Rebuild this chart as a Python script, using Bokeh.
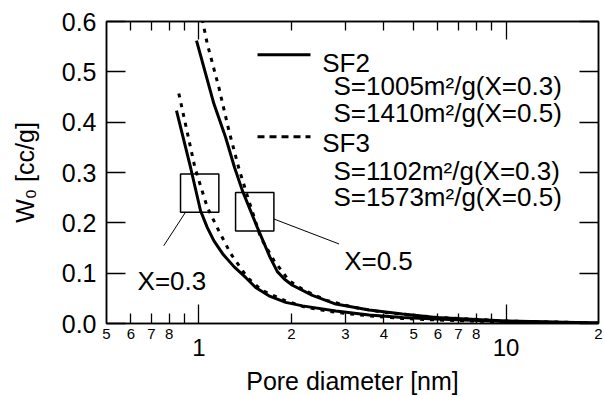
from bokeh.plotting import figure
from bokeh.models import (Range1d, LogAxis, LinearAxis, FixedTicker, NumeralTickFormatter,
                          BoxAnnotation, Label, Arrow)
from bokeh.embed import file_html
from bokeh.resources import INLINE

FONT = "Liberation Sans"

# ---- data ----
sf2_x03_d = [0.845, 0.939, 1.012, 1.064, 1.119, 1.200, 1.300, 1.419, 1.530, 1.690, 1.917, 2.173, 2.79, 3.58, 4.60, 5.91, 10.0, 20.0]
sf2_x03_w = [0.423, 0.310, 0.224, 0.191, 0.164, 0.137, 0.113, 0.0915, 0.0716, 0.055, 0.042, 0.035, 0.025, 0.0167, 0.012, 0.0087, 0.004, 0.0005]

sf3_x03_d = [0.860, 0.970, 1.064, 1.161, 1.268, 1.437, 1.600, 1.900, 2.200, 2.80, 3.60, 4.60, 6.00, 10.0, 20.0]
sf3_x03_w = [0.457, 0.310, 0.231, 0.184, 0.139, 0.0915, 0.066, 0.046, 0.033, 0.022, 0.015, 0.010, 0.007, 0.003, 0.0005]

sf2_x05_d = [0.982, 1.118, 1.221, 1.306, 1.385, 1.549, 1.700, 1.800, 1.900, 2.015, 2.342, 2.79, 3.58, 4.60, 5.91, 10.0, 20.0]
sf2_x05_w = [0.562, 0.437, 0.370, 0.310, 0.264, 0.191, 0.133, 0.103, 0.088, 0.076, 0.056, 0.0386, 0.027, 0.0187, 0.012, 0.005, 0.001]

sf3_x05_d = [1.025, 1.064, 1.161, 1.252, 1.349, 1.454, 1.588, 1.755, 1.965, 2.200, 2.60, 3.20, 4.00, 6.00, 10.0, 20.0]
sf3_x05_w = [0.605, 0.556, 0.469, 0.383, 0.308, 0.244, 0.171, 0.125, 0.085, 0.066, 0.046, 0.032, 0.022, 0.012, 0.005, 0.001]

x_major_ticks = [1.0, 10.0]
x_major_labels = ["1", "10"]
x_minor_ticks = [0.6, 0.7, 0.8, 0.9, 2.0, 3.0, 4.0, 5.0, 6.0, 7.0, 8.0, 9.0]
x_small_label_ticks = [0.5, 0.6, 0.7, 0.8, 2.0, 3.0, 4.0, 5.0, 6.0, 7.0, 8.0, 20.0]
x_small_labels = ["5", "6", "7", "8", "2", "3", "4", "5", "6", "7", "8", "2"]
y_ticks = [0.0, 0.1, 0.2, 0.3, 0.4, 0.5, 0.6]

legend_titles = ["SF2", "SF3"]
legend_sf2 = ["S=1005m\u00b2/g(X=0.3)", "S=1410m\u00b2/g(X=0.5)"]
legend_sf3 = ["S=1102m\u00b2/g(X=0.3)", "S=1573m\u00b2/g(X=0.5)"]

box_x03 = dict(left=0.871, right=1.161, bottom=0.221, top=0.297)
box_x05 = dict(left=1.316, right=1.754, bottom=0.184, top=0.2605)

# ---- figure ----
p = figure(width=605, height=397, x_axis_type="log",
           x_range=Range1d(0.5, 20), y_range=Range1d(0, 0.6),
           output_backend="svg", toolbar_location=None,
           min_border_left=106, min_border_right=7, min_border_top=21, min_border_bottom=74)
p.xgrid.visible = False
p.ygrid.visible = False
p.outline_line_color = "black"
p.outline_line_width = 1.5
p.background_fill_color = "white"
p.border_fill_color = "white"

def style_ticks(ax):
    ax.axis_line_color = "black"
    ax.axis_line_width = 1.5
    ax.major_tick_line_color = "black"
    ax.major_tick_line_width = 1.3
    ax.minor_tick_line_color = "black"
    ax.minor_tick_line_width = 1.3
    ax.major_tick_out = 0
    ax.minor_tick_out = 0

def hide_labels(ax):
    ax.major_label_text_font_size = "1px"
    ax.major_label_text_color = None
    ax.major_label_standoff = 0

# bottom axis 1: tick marks only
ax1 = p.xaxis[0]
ax1.ticker = FixedTicker(ticks=x_major_ticks, minor_ticks=x_minor_ticks)
style_ticks(ax1)
ax1.major_tick_in = 19
ax1.minor_tick_in = 10
hide_labels(ax1)

# bottom axis 2: small labels
ax2 = LogAxis(ticker=FixedTicker(ticks=x_small_label_ticks, minor_ticks=[]),
              major_label_overrides=dict(zip(x_small_label_ticks, x_small_labels)),
              axis_line_color=None, major_tick_line_color=None, minor_tick_line_color=None,
              major_tick_in=0, major_tick_out=0, minor_tick_in=0, minor_tick_out=0,
              major_label_text_font=FONT, major_label_text_font_size="15px",
              major_label_text_color="black", major_label_standoff=5)
p.add_layout(ax2, "below")

# bottom axis 3: big labels + title
ax3 = LogAxis(ticker=FixedTicker(ticks=x_major_ticks, minor_ticks=[]),
              major_label_overrides=dict(zip(x_major_ticks, x_major_labels)),
              axis_line_color=None, major_tick_line_color=None, minor_tick_line_color=None,
              major_tick_in=0, major_tick_out=0, minor_tick_in=0, minor_tick_out=0,
              major_label_text_font=FONT, major_label_text_font_size="24px",
              major_label_text_color="black", major_label_standoff=-3,
              axis_label="Pore diameter [nm]", axis_label_text_font=FONT,
              axis_label_text_font_size="25px", axis_label_text_font_style="normal",
              axis_label_text_color="black", axis_label_standoff=8)
p.add_layout(ax3, "below")

# left axis
ay = p.yaxis[0]
ay.ticker = FixedTicker(ticks=y_ticks, minor_ticks=[])
ay.formatter = NumeralTickFormatter(format="0.0")
style_ticks(ay)
ay.major_tick_in = 19
ay.minor_tick_in = 0
ay.minor_tick_line_color = None
ay.major_label_text_font = FONT
ay.major_label_text_font_size = "25px"
ay.major_label_text_color = "black"
ay.major_label_standoff = 10
ay.axis_label = "W\u2080 [cc/g]"
ay.axis_label_text_font = FONT
ay.axis_label_text_font_size = "25px"
ay.axis_label_text_font_style = "normal"
ay.axis_label_text_color = "black"
ay.axis_label_standoff = 20

# right axis
ar = LinearAxis(ticker=FixedTicker(ticks=y_ticks, minor_ticks=[]))
style_ticks(ar)
ar.major_tick_in = 19
ar.minor_tick_line_color = None
hide_labels(ar)
p.add_layout(ar, "right")

# top axis
at = LogAxis(ticker=FixedTicker(ticks=x_major_ticks, minor_ticks=x_minor_ticks))
style_ticks(at)
at.major_tick_in = 18
at.minor_tick_in = 9
hide_labels(at)
p.add_layout(at, "above")

# ---- curves ----
p.line(sf2_x03_d, sf2_x03_w, line_color="black", line_width=3)
p.line(sf2_x05_d, sf2_x05_w, line_color="black", line_width=3)
p.line(sf3_x03_d, sf3_x03_w, line_color="black", line_width=3, line_dash="4 6")
p.line(sf3_x05_d, sf3_x05_w, line_color="black", line_width=3, line_dash="4 6")

# ---- boxes and callouts ----
for b in (box_x03, box_x05):
    p.add_layout(BoxAnnotation(fill_alpha=0, fill_color=None, line_color="black",
                               line_width=1.5, line_alpha=1, **b))
p.add_layout(Arrow(end=None, x_start=0.904, y_start=0.221, x_end=0.768, y_end=0.1545,
                   line_color="black", line_width=1))
p.add_layout(Arrow(end=None, x_start=1.754, y_start=0.2076, x_end=2.86, y_end=0.158,
                   line_color="black", line_width=1))
p.add_layout(Label(x=0.631, y=0.085, text="X=0.3", text_font=FONT, text_font_size="26px",
                   text_color="black", text_baseline="alphabetic"))
p.add_layout(Label(x=2.97, y=0.1247, text="X=0.5", text_font=FONT, text_font_size="26px",
                   text_color="black", text_baseline="alphabetic"))

# ---- legend (drawn by hand, screen units relative to frame) ----
p.add_layout(Arrow(end=None, x_start=151, y_start=268.7, x_end=204, y_end=268.7,
                   start_units="screen", end_units="screen", line_color="black", line_width=3))
p.add_layout(Arrow(end=None, x_start=151, y_start=186.7, x_end=204, y_end=186.7,
                   start_units="screen", end_units="screen", line_color="black", line_width=3,
                   line_dash="7 5"))
legend_rows = [(215.7, 260.4, legend_titles[0]), (227, 237.7, legend_sf2[0]), (227, 211, legend_sf2[1]),
               (215.7, 181, legend_titles[1]), (227, 152.7, legend_sf3[0]), (227, 127, legend_sf3[1])]
for lx, ly, txt in legend_rows:
    p.add_layout(Label(x=lx, y=ly, x_units="screen", y_units="screen", text=txt,
                       text_font=FONT, text_font_size="26px", text_color="black",
                       text_baseline="alphabetic"))

open("out.html", "w").write(file_html(p, INLINE))
